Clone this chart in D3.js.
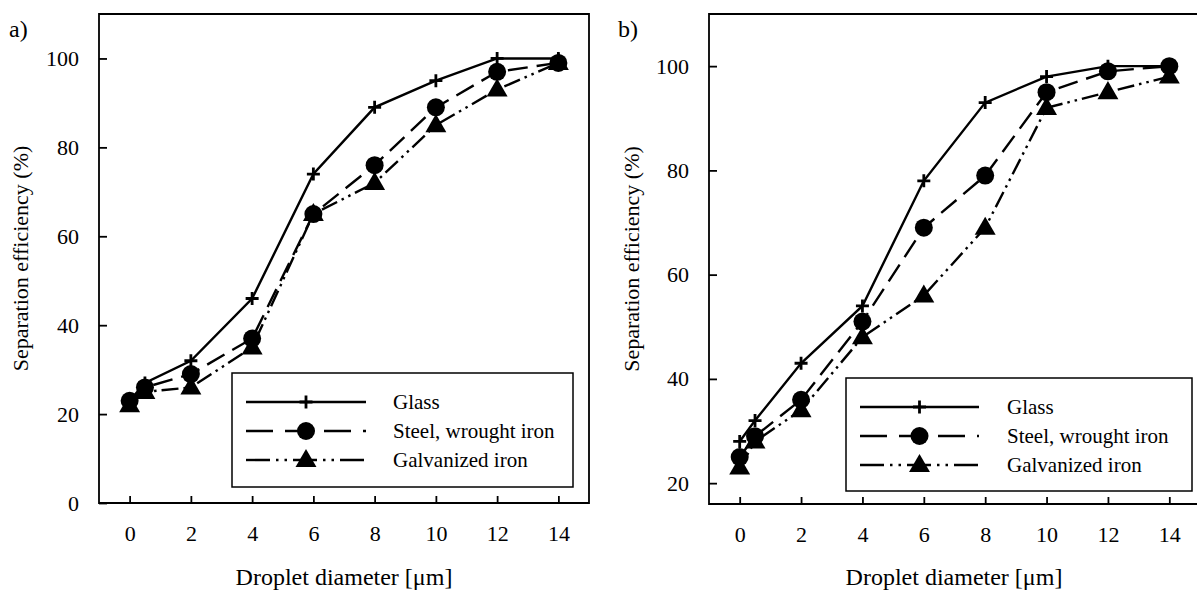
<!DOCTYPE html>
<html>
<head>
<meta charset="utf-8">
<script src="https://cdn.jsdelivr.net/npm/d3@7"></script>
<style>
  body { margin: 0; background: #fff; }
  svg text { font-family: "Liberation Serif", "Times New Roman", Tinos, "DejaVu Serif", serif !important; fill: #000; }
</style>
</head>
<body>
<div id="chart"></div>
<script>
// droplet diameters (um)
var diameters = [0, 0.5, 2, 4, 6, 8, 10, 12, 14];
var xTicks = [0, 2, 4, 6, 8, 10, 12, 14];

// panel a) separation efficiency (%)
var glassA = [23, 27, 32, 46, 74, 89, 95, 100, 100];
var steelA = [23, 26, 29, 37, 65, 76, 89, 97, 99];
var galvA = [22, 25, 26, 35, 65, 72, 85, 93, 99];
var yTicksA = [0, 20, 40, 60, 80, 100];

// panel b) separation efficiency (%)
var glassB = [28, 32, 43, 54, 78, 93, 98, 100, 100];
var steelB = [25, 29, 36, 51, 69, 79, 95, 99, 100];
var galvB = [23, 28, 34, 48, 56, 69, 92, 95, 98];
var yTicksB = [20, 40, 60, 80, 100];

var seriesNames = ["Glass", "Steel, wrought iron", "Galvanized iron"];

var svgWidth = 1197;
var svgHeight = 592;
var serif = "'Liberation Serif', 'Times New Roman', Tinos, 'DejaVu Serif', serif";

var svg = d3.select("#chart")
    .append("svg")
    .attr("width", svgWidth)
    .attr("height", svgHeight)
    .style("font-family", serif);

var styles = [
    { dash: null, marker: "plus" },
    { dash: "20,9", marker: "circle" },
    { dash: "17,5,2.5,5,2.5,5", marker: "triangle" }
];

function drawMarker(g, type, x, y) {
    if (type === "plus") {
        g.append("path")
            .attr("d", `M${x - 6.5},${y}H${x + 6.5}M${x},${y - 6.5}V${y + 6.5}`)
            .attr("stroke", "#000")
            .attr("stroke-width", 2.8);
    } else if (type === "circle") {
        g.append("circle")
            .attr("cx", x).attr("cy", y).attr("r", 9)
            .attr("fill", "#000");
    } else {
        g.append("path")
            .attr("d", d3.symbol().type(d3.symbolTriangle).size(190)())
            .attr("transform", `translate(${x},${y + 1})`)
            .attr("fill", "#000");
    }
}

function drawPanel(p) {
    var x = d3.scaleLinear().domain([-1, 15]).range([p.left, p.right]);
    var y = d3.scaleLinear().domain(p.yDomain).range([p.bottom, p.top]);

    var g = svg.append("g");

    // frame
    g.append("path")
        .attr("d", p.closed
            ? `M${p.left},${p.top}H${p.right}V${p.bottom}H${p.left}Z`
            : `M${p.right},${p.top}H${p.left}V${p.bottom}H${p.right}`)
        .attr("fill", "none")
        .attr("stroke", "#000")
        .attr("stroke-width", 1.8);

    // axes with inward ticks
    var leftAxis = d3.axisLeft(y).tickValues(p.yTicks).tickSize(-8).tickPadding(20);
    var bottomAxis = d3.axisBottom(x).tickValues(xTicks).tickSize(-7).tickPadding(22);

    var ya = g.append("g").attr("transform", `translate(${p.left},0)`).call(leftAxis);
    var xa = g.append("g").attr("transform", `translate(0,${p.bottom})`).call(bottomAxis);
    [ya, xa].forEach(function (a) {
        a.attr("font-family", serif).attr("font-size", 22);
        a.select(".domain").remove();
        a.selectAll("line").attr("stroke", "#000").attr("stroke-width", 1.8);
        a.selectAll("text").attr("fill", "#000");
    });

    // series lines
    var line = d3.line()
        .x(function (d, i) { return x(diameters[i]); })
        .y(function (d) { return y(d); });

    p.series.forEach(function (vals, s) {
        g.append("path")
            .datum(vals)
            .attr("d", line)
            .attr("fill", "none")
            .attr("stroke", "#000")
            .attr("stroke-width", 2.4)
            .attr("stroke-dasharray", styles[s].dash);
    });

    // markers, drawn triangles first so circles sit on top
    [2, 1, 0].forEach(function (s) {
        p.series[s].forEach(function (v, i) {
            drawMarker(g, styles[s].marker, x(diameters[i]), y(v));
        });
    });

    // legend
    var lg = g.append("g");
    lg.append("rect")
        .attr("x", p.legend.x).attr("y", p.legend.y)
        .attr("width", p.legend.w).attr("height", p.legend.h)
        .attr("fill", "#fff")
        .attr("stroke", "#000")
        .attr("stroke-width", 1.5);
    seriesNames.forEach(function (name, s) {
        var ly = p.legend.y + 29 + s * 29;
        var x0 = p.legend.x + 14;
        var x1 = x0 + p.legend.lineLen;
        lg.append("line")
            .attr("x1", x0).attr("x2", x1)
            .attr("y1", ly).attr("y2", ly)
            .attr("stroke", "#000")
            .attr("stroke-width", 2.4)
            .attr("stroke-dasharray", s === 1 ? "27,12" : (s === 2 ? "24,6,2.5,6,2.5,6" : null));
        drawMarker(lg, styles[s].marker, (x0 + x1) / 2, ly);
        lg.append("text")
            .attr("x", p.legend.textX)
            .attr("y", ly + 7)
            .attr("font-size", 21)
            .text(name);
    });

    // titles
    g.append("text")
        .attr("x", p.labelX).attr("y", 37)
        .attr("font-size", 24)
        .text(p.label);

    g.append("text")
        .attr("transform", `translate(${p.yTitleX},${(p.top + p.bottom) / 2}) rotate(-90)`)
        .attr("text-anchor", "middle")
        .attr("dy", "0.35em")
        .attr("font-size", 22)
        .text("Separation efficiency (%)");

    g.append("text")
        .attr("x", p.xTitleX).attr("y", 585)
        .attr("text-anchor", "middle")
        .attr("font-size", 24)
        .text("Droplet diameter [\u03bcm]");
}

drawPanel({
    left: 99, right: 589, top: 14, bottom: 503,
    yDomain: [0, 110], yTicks: yTicksA, closed: true,
    series: [glassA, steelA, galvA],
    legend: { x: 232, y: 373, w: 341, h: 114, lineLen: 120, textX: 393 },
    label: "a)", labelX: 9, yTitleX: 20, xTitleX: 344
});

drawPanel({
    left: 709, right: 1200, top: 14, bottom: 504,
    yDomain: [16, 110], yTicks: yTicksB, closed: false,
    series: [glassB, steelB, galvB],
    legend: { x: 846, y: 378, w: 346, h: 113, lineLen: 119, textX: 1007 },
    label: "b)", labelX: 618, yTitleX: 631, xTitleX: 954
});
</script>
</body>
</html>
